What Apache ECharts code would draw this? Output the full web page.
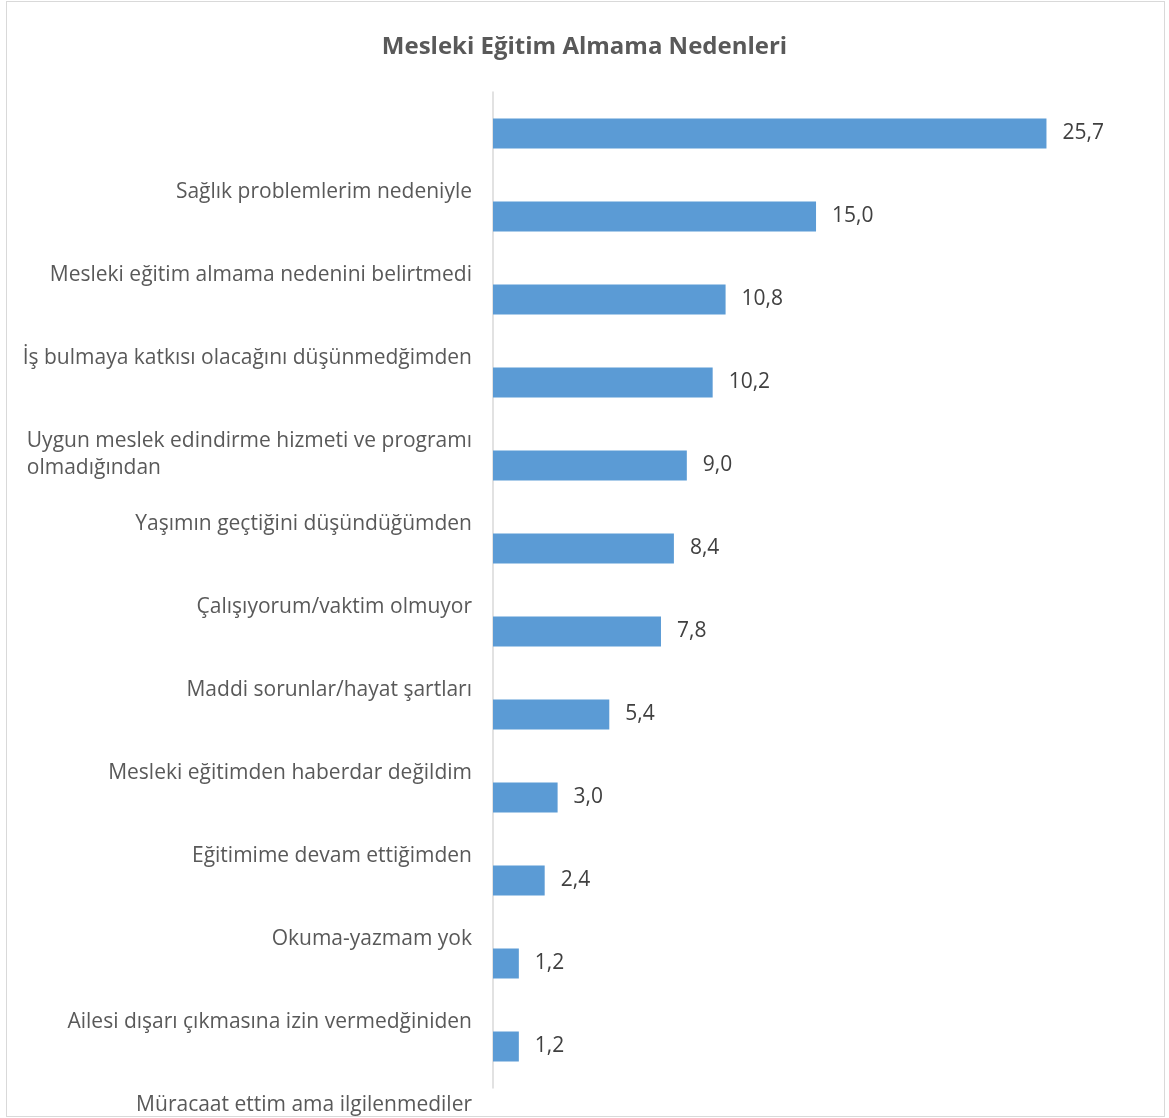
<!DOCTYPE html>
<html>
<head>
<meta charset="utf-8">
<script src="https://cdn.jsdelivr.net/npm/echarts@6/dist/echarts.min.js"></script>
<style>
html,body{margin:0;padding:0;background:#fff;}
#frame{position:absolute;left:6px;top:1px;width:1159px;height:1116px;border:1px solid #d9d9d9;box-sizing:border-box;}
#chart{position:absolute;left:0;top:0;width:1169px;height:1118px;}
</style>
</head>
<body>
<div id="frame"></div>
<div id="chart"></div>
<script>
const titleText = 'Mesleki Eğitim Almama Nedenleri';
const categories = [
  'Sağlık problemlerim nedeniyle',
  'Mesleki eğitim almama nedenini belirtmedi',
  'İş bulmaya katkısı olacağını düşünmedğimden',
  'Uygun meslek edindirme hizmeti ve programı\nolmadığından',
  'Yaşımın geçtiğini düşündüğümden',
  'Çalışıyorum/vaktim olmuyor',
  'Maddi sorunlar/hayat şartları',
  'Mesleki eğitimden haberdar değildim',
  'Eğitimime devam ettiğimden',
  'Okuma-yazmam yok',
  'Ailesi dışarı çıkmasına izin vermedğiniden',
  'Müracaat ettim ama ilgilenmediler'
];
const values = [25.7, 15.0, 10.8, 10.2, 9.0, 8.4, 7.8, 5.4, 3.0, 2.4, 1.2, 1.2];

const FONT = 'Open Sans';
const chart = echarts.init(document.getElementById('chart'), null, {renderer: 'canvas'});
chart.setOption({
  animation: false,
  title: {
    text: titleText,
    left: 'center',
    top: 30,
    textStyle: {fontFamily: FONT, fontSize: 24, fontWeight: 'bold', color: '#595959'}
  },
  grid: {left: 493, right: 73, top: 92, bottom: 30, containLabel: false},
  xAxis: {
    type: 'value', min: 0, max: 28, show: false,
    splitLine: {show: false}
  },
  yAxis: {
    type: 'category',
    inverse: true,
    data: categories,
    axisLine: {show: true, lineStyle: {color: '#d9d9d9', width: 1.5}},
    axisTick: {show: false},
    splitLine: {show: false},
    axisLabel: {
      interval: 0,
      margin: 21,
      verticalAlign: 'top',
      padding: [45, 0, 0, 0],
      formatter: function (v) {
        return v.split('\n').map(function (s) { return '{l|' + s + '}'; }).join('\n');
      },
      rich: {
        l: {align: 'left', fontFamily: FONT, fontSize: 21, color: '#595959', lineHeight: 27}
      }
    }
  },
  series: [{
    type: 'bar',
    data: values,
    barWidth: 30,
    itemStyle: {color: '#5b9bd5'},
    label: {
      show: true,
      position: 'right',
      distance: 16,
      fontFamily: FONT,
      fontSize: 21,
      color: '#404040',
      formatter: function (p) { return p.value.toFixed(1).replace('.', ','); }
    }
  }]
});
</script>
</body>
</html>
